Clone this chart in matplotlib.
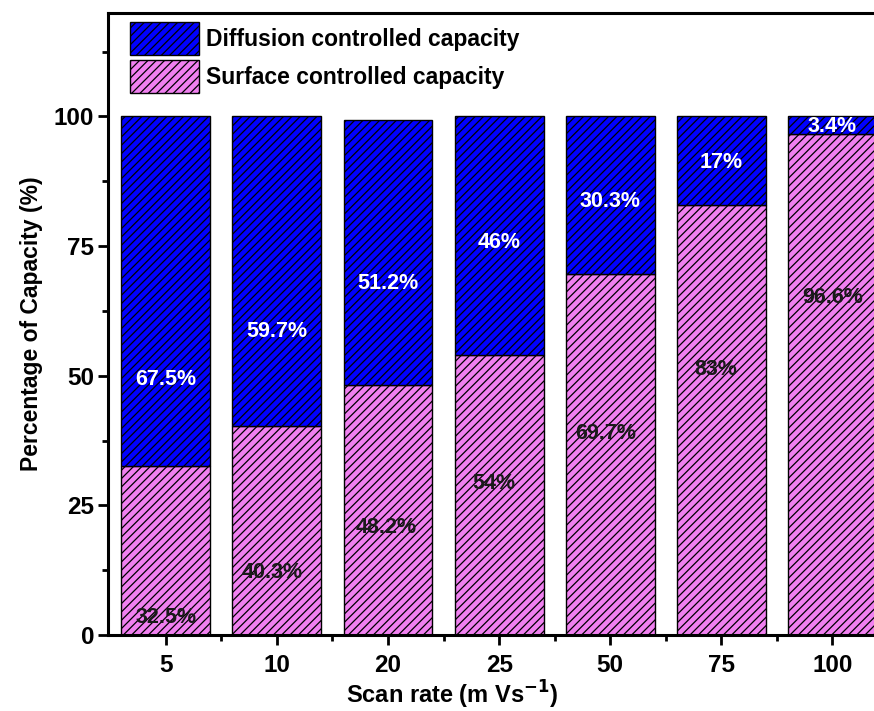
import numpy as np
import matplotlib
matplotlib.use("Agg")
import matplotlib.pyplot as plt
from matplotlib.ticker import MultipleLocator

plt.rcParams['font.family'] = ['Liberation Sans', 'DejaVu Sans']
plt.rcParams['font.weight'] = 'bold'
plt.rcParams['hatch.linewidth'] = 0.9

# data
scan_rates = ['5', '10', '20', '25', '50', '75', '100']
surface = [32.5, 40.3, 48.2, 54, 69.7, 83, 96.6]
diffusion = [67.5, 59.7, 51.2, 46, 30.3, 17, 3.4]
diff_labels = ['67.5%', '59.7%', '51.2%', '46%', '30.3%', '17%', '3.4%']
surf_labels = ['32.5%', '40.3%', '48.2%', '54%', '69.7%', '83%', '96.6%']

# where the percentage text sits (y in data units)
diff_text_y = [49.2, 58.5, 67.8, 75.7, 83.6, 91.1, 98.1]
surf_text_y = [3.3, 12.0, 20.7, 29.3, 38.8, 51.2, 65.0]
surf_text_dx = [0, -0.04, -0.02, -0.05, -0.04, -0.05, 0]

fig = plt.figure(figsize=(8.74, 7.11), dpi=100)
ax = fig.add_axes([0.1236, 0.107, 0.895, 0.875])

x = np.arange(len(scan_rates))
ax.bar(x, surface, width=0.8, color='#F080F0', edgecolor='black',
       linewidth=1.0, hatch='////', label='Surface controlled capacity')
ax.bar(x, diffusion, width=0.8, bottom=surface, color='#0000FF',
       edgecolor='black', linewidth=1.0, hatch='////',
       label='Diffusion controlled capacity')

for i in range(len(x)):
    ax.text(x[i], diff_text_y[i], diff_labels[i], ha='center', va='center',
            color='white', fontsize=15.5, fontweight='bold')
    ax.text(x[i] + surf_text_dx[i], surf_text_y[i], surf_labels[i],
            ha='center', va='center', color='#1a1a1a', fontsize=15.5,
            fontweight='bold')

ax.set_xlim(-0.52, 6.52)
ax.set_ylim(0, 120)
ax.set_xticks(x)
ax.set_xticklabels(scan_rates)
ax.set_xticks(x[:-1] + 0.5, minor=True)
ax.yaxis.set_minor_locator(MultipleLocator(12.5))
ax.set_yticks([0, 25, 50, 75, 100])

ax.tick_params(axis='both', which='major', direction='out', length=7,
               width=2, labelsize=17.5, pad=3)
ax.tick_params(axis='both', which='minor', direction='out', length=4,
               width=2)
ax.tick_params(axis='x', which='major', pad=7)
for s in ax.spines.values():
    s.set_linewidth(2.2)

ax.set_xlabel('Scan rate (m Vs$^{\\mathbf{-1}}$)', fontsize=17,
              fontweight='bold')
ax.xaxis.set_label_coords(0.44, -0.071)
ax.set_ylabel('Percentage of Capacity (%)', fontsize=16.5, fontweight='bold',
              labelpad=8)

h, l = ax.get_legend_handles_labels()
ax.legend(h[::-1], l[::-1], loc='upper left', frameon=False, fontsize=16.5,
          handlelength=3.0, handleheight=1.85, handletextpad=0.3,
          labelspacing=0.2, borderaxespad=0.2, borderpad=0.2,
          bbox_to_anchor=(0.017, 1.0))

fig.savefig('out.png', dpi=100)
